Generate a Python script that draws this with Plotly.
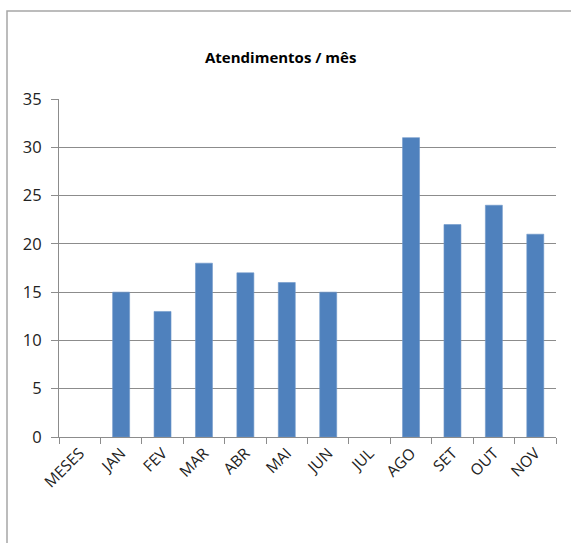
import plotly.graph_objects as go

# Monthly service counts
meses = ["MESES", "JAN", "FEV", "MAR", "ABR", "MAI", "JUN", "JUL", "AGO", "SET", "OUT", "NOV"]
atendimentos = [None, 15, 13, 18, 17, 16, 15, None, 31, 22, 24, 21]
y_ticks = [0, 5, 10, 15, 20, 25, 30, 35]

W, H = 571, 543
L, R, T, B = 59, 15, 99, 106
pw, ph = W - L - R, H - T - B

def px_x(p):
    return (p - L) / pw

def px_y(p):
    return (H - B - p) / ph

fig = go.Figure(
    go.Bar(
        x=meses,
        y=atendimentos,
        marker=dict(color="#4F81BD", line=dict(color="#6F97CA", width=0.6)),
        width=0.41,
    )
)

font_family = "Open Sans, DejaVu Sans, sans-serif"

fig.update_layout(
    width=W,
    height=H,
    autosize=False,
    margin=dict(l=L, r=R, t=T, b=B),
    paper_bgcolor="white",
    plot_bgcolor="white",
    showlegend=False,
    font=dict(family=font_family, size=15, color="#222222"),
    xaxis=dict(
        type="category",
        tickangle=-45,
        tickson="boundaries",
        ticks="outside",
        ticklen=6,
        tickcolor="#8C8C8C",
        showline=True,
        linecolor="#8C8C8C",
        linewidth=1.2,
        showgrid=False,
        automargin=False,
        tickfont=dict(size=15.5, color="#222222"),
    ),
    yaxis=dict(
        range=[0, 35],
        tickvals=y_ticks,
        ticks="outside",
        ticklen=7,
        tickcolor="#8C8C8C",
        showline=True,
        linecolor="#8C8C8C",
        linewidth=1.2,
        showgrid=True,
        gridcolor="#8C8C8C",
        gridwidth=1,
        zeroline=False,
        automargin=False,
        ticklabelstandoff=6,
        tickfont=dict(size=16.5, color="#222222"),
    ),
    annotations=[
        dict(
            text="<b>Atendimentos / mês</b>",
            xref="paper",
            yref="paper",
            x=px_x(280),
            y=px_y(57),
            xanchor="center",
            yanchor="middle",
            showarrow=False,
            font=dict(size=15, color="#000000"),
        )
    ],
    shapes=[
        dict(
            type="rect",
            xref="paper",
            yref="paper",
            x0=px_x(7),
            x1=px_x(590),
            y0=px_y(560),
            y1=px_y(11),
            line=dict(color="#A6A6A6", width=1.5),
            fillcolor="rgba(0,0,0,0)",
            layer="above",
        )
    ],
)

fig.write_html("out.html")
